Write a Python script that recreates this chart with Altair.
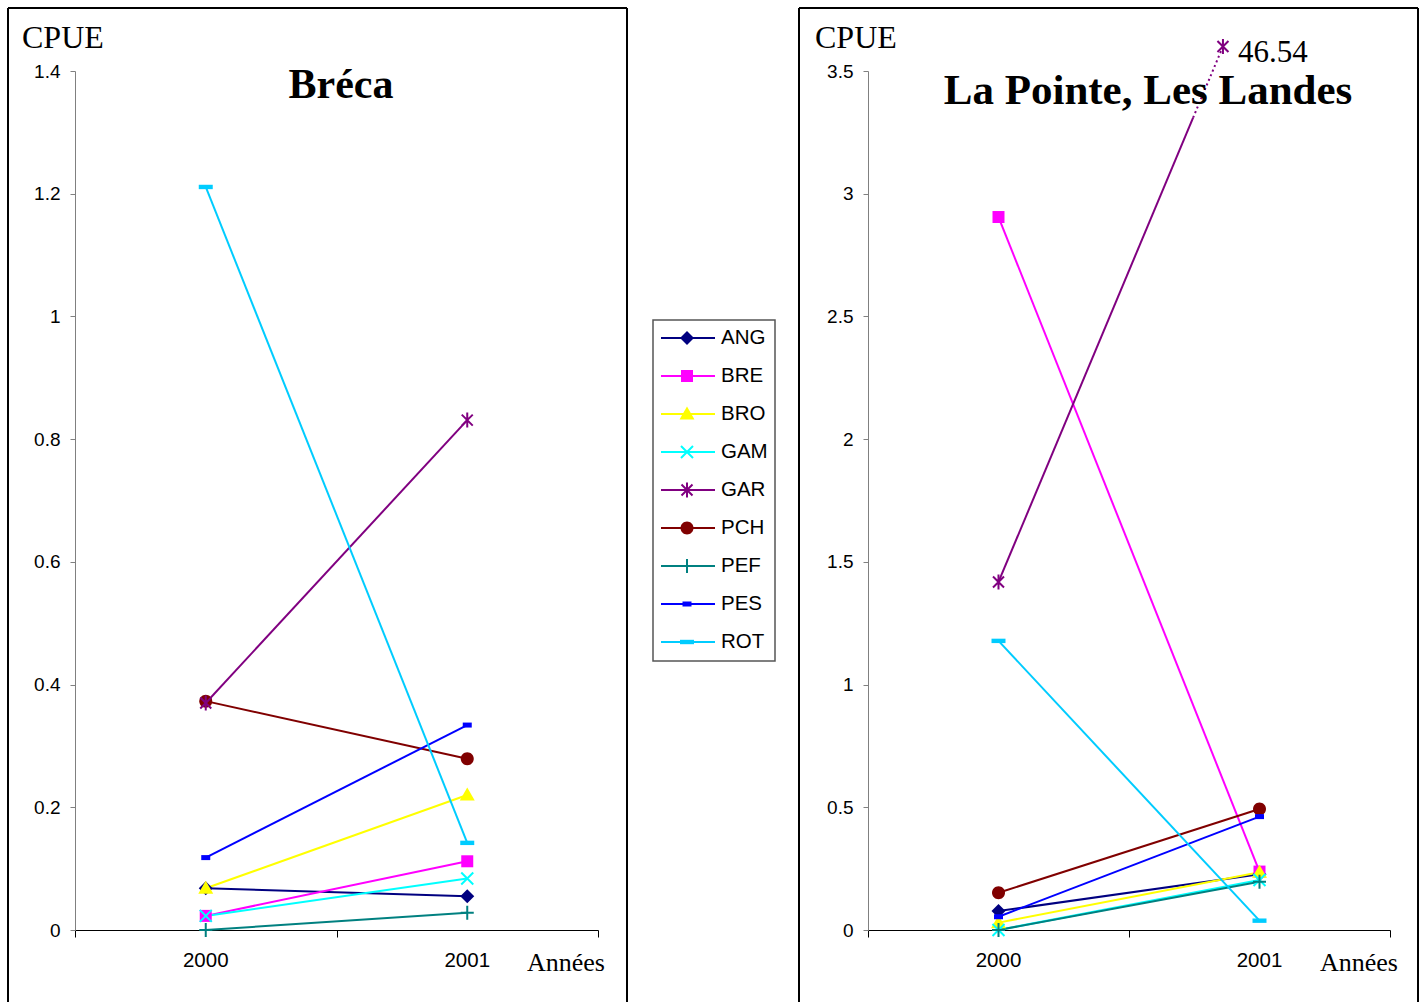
import altair as alt
import pandas as pd

# ---------------------------------------------------------------- data
years = [2000, 2001]
species = ["ANG", "BRE", "BRO", "GAM", "GAR", "PCH", "PEF", "PES", "ROT"]

# CPUE per species, Bréca
breca_2000 = [0.068, 0.023, 0.068, 0.023, 0.370, 0.373, 0.0, 0.118, 1.211]
breca_2001 = [0.055, 0.112, 0.220, 0.084, 0.831, 0.279, 0.028, 0.334, 0.142]

# CPUE per species, La Pointe / Les Landes
landes_2000 = [0.077, 2.905, 0.030, 0.0, 1.418, 0.152, 0.0, 0.054, 1.178]
landes_2001 = [0.227, 0.238, 0.235, 0.204, 46.54, 0.493, 0.197, 0.462, 0.038]

breca_ticks = [0, 0.2, 0.4, 0.6, 0.8, 1, 1.2, 1.4]
landes_ticks = [0, 0.5, 1, 1.5, 2, 2.5, 3, 3.5]

# ---------------------------------------------------------------- styles
colors = ["#000080", "#FF00FF", "#FFFF00", "#00FFFF", "#800080",
          "#800000", "#008080", "#0000FF", "#00CCFF"]

# marker outlines in symbol units (size=400 -> 1 unit = 10 px)
shapes = [
    "M0,-0.7L0.7,0L0,0.7L-0.7,0Z",                          # diamond
    "M-0.6,-0.6L0.6,-0.6L0.6,0.6L-0.6,0.6Z",                # square
    "M0,-0.75L0.75,0.55L-0.75,0.55Z",                       # triangle
    "M-0.6,-0.6L0.6,0.6M-0.6,0.6L0.6,-0.6",                 # x
    "M-0.55,-0.55L0.55,0.55M-0.55,0.55L0.55,-0.55M0,-0.75L0,0.75",  # asterisk
    "M-0.65,0A0.65,0.65 0 1,0 0.65,0A0.65,0.65 0 1,0 -0.65,0Z",  # circle
    "M-0.65,0L0.65,0M0,-0.7L0,0.7",                         # plus
    "M-0.45,-0.25L0.45,-0.25L0.45,0.25L-0.45,0.25Z",        # short dash
    "M-0.7,-0.22L0.7,-0.22L0.7,0.22L-0.7,0.22Z",            # long dash
]
outlined = ["GAM", "GAR", "PEF"]

SERIF = "Liberation Serif"
SANS = "Liberation Sans"

color_scale = alt.Scale(domain=species, range=colors)
shape_scale = alt.Scale(domain=species, range=shapes)
x_scale = alt.Scale(domain=[1999.5, 2001.5], nice=False, zero=False)
x_axis = alt.Axis(values=[1999.5, 2000.5, 2001.5], labels=False,
                  tickSize=7, tickColor="black", domainColor="black",
                  grid=False)

PANEL_H = 859


def long_table(v2000, v2001):
    rows = []
    for i, sp in enumerate(species):
        rows.append({"species": sp, "year": years[0], "cpue": v2000[i]})
        rows.append({"species": sp, "year": years[1], "cpue": v2001[i]})
    return pd.DataFrame(rows)


def one_row():
    return pd.DataFrame({"k": [0]})


def panel(df, y_max, ticks, title, title_x, title_y, title_size, frame_l,
          frame_r, width, extra=()):
    y_scale = alt.Scale(domain=[0, y_max], nice=False, zero=True)
    x_enc = alt.X("year:Q", scale=x_scale, title=None, axis=x_axis)
    y_enc = alt.Y("cpue:Q", scale=y_scale, title=None,
                  axis=alt.Axis(values=ticks, format="~g", tickSize=5,
                                labelPadding=10, labelFont=SANS,
                                labelFontSize=19, labelColor="black",
                                domainColor="#808080", tickColor="#808080",
                                grid=False))

    # an off-axis GAR value gets its own drawing (see below)
    line_df = df[~((df.species == "GAR") & (df.cpue.max() > y_max))]
    lines = alt.Chart(line_df).mark_line(strokeWidth=2).encode(
        x=x_enc, y=y_enc,
        color=alt.Color("species:N", scale=color_scale, legend=None),
        detail="species:N",
    )
    pts = df[df.cpue <= y_max]
    filled = alt.Chart(pts[~pts.species.isin(outlined)]).mark_point(
        filled=True, opacity=1, size=400, strokeWidth=0).encode(
        x=x_enc, y=y_enc,
        color=alt.Color("species:N", scale=color_scale, legend=None),
        shape=alt.Shape("species:N", scale=shape_scale, legend=None),
    )
    stroked = alt.Chart(pts[pts.species.isin(outlined)]).mark_point(
        filled=False, opacity=1, size=400, strokeWidth=2).encode(
        x=x_enc, y=y_enc,
        color=alt.Color("species:N", scale=color_scale, legend=None),
        shape=alt.Shape("species:N", scale=shape_scale, legend=None),
    )

    # outer frame (open at the bottom edge of the page)
    frame = alt.layer(
        alt.Chart(one_row()).mark_rule(color="black", strokeWidth=2).encode(
            x=alt.value(frame_l), y=alt.value(-63), y2=alt.value(931)),
        alt.Chart(one_row()).mark_rule(color="black", strokeWidth=2).encode(
            x=alt.value(frame_r), y=alt.value(-63), y2=alt.value(931)),
        alt.Chart(one_row()).mark_rule(color="black", strokeWidth=2).encode(
            x=alt.value(frame_l), x2=alt.value(frame_r), y=alt.value(-63)),
    )

    year_labels = alt.Chart(pd.DataFrame({"year": years})).mark_text(
        font=SANS, fontSize=20.5, baseline="middle", color="black").encode(
        x=x_enc, y=alt.value(890),
        text=alt.Text("year:Q", format="d"))

    texts = alt.layer(
        alt.Chart(one_row()).mark_text(
            text="CPUE", font=SERIF, fontSize=32, align="left",
            baseline="alphabetic", color="black").encode(
            x=alt.value(-53), y=alt.value(-23)),
        alt.Chart(one_row()).mark_text(
            text=title, font=SERIF, fontSize=title_size, fontWeight="bold",
            align="center", baseline="alphabetic", color="black").encode(
            x=alt.value(title_x), y=alt.value(title_y)),
        alt.Chart(one_row()).mark_text(
            text="Années", font=SERIF, fontSize=26, align="left",
            baseline="alphabetic", color="black").encode(
            x=alt.value(452), y=alt.value(900)),
    )

    return alt.layer(frame, lines, *extra, filled, stroked, year_labels,
                     texts).properties(width=width, height=PANEL_H)


# ---------------------------------------------------------------- Bréca
breca = long_table(breca_2000, breca_2001)
left = panel(breca, 1.4, breca_ticks, "Bréca", 266, 27, 42, -67, 552, 523)

# ---------------------------------------------------------------- La Pointe
landes = long_table(landes_2000, landes_2001)
gi = species.index("GAR")
gar_from = landes_2000[gi]
gar_value = landes_2001[gi]
# the 2001 GAR value is far off the axis: it is shown at a break point
# just above the plot, reached by a dotted continuation of its line
BREAK_YEAR, BREAK_CPUE = 2000.86, 3.6
SOLID_END = 3.31
solid_year = years[0] + (SOLID_END - gar_from) / (BREAK_CPUE - gar_from) * (
    BREAK_YEAR - years[0])

r_y = alt.Scale(domain=[0, 3.5], nice=False, zero=True)
gar_color = colors[gi]
gar_solid = alt.Chart(pd.DataFrame({
    "year": [years[0], solid_year], "cpue": [gar_from, SOLID_END]})
).mark_line(strokeWidth=2, color=gar_color).encode(
    x=alt.X("year:Q", scale=x_scale, axis=x_axis),
    y=alt.Y("cpue:Q", scale=r_y))
gar_dotted = alt.Chart(pd.DataFrame({
    "year": [solid_year, BREAK_YEAR], "cpue": [SOLID_END, BREAK_CPUE]})
).mark_line(strokeWidth=2, color=gar_color, strokeDash=[2, 3]).encode(
    x=alt.X("year:Q", scale=x_scale, axis=x_axis),
    y=alt.Y("cpue:Q", scale=r_y))
gar_break = pd.DataFrame({"year": [BREAK_YEAR], "cpue": [BREAK_CPUE],
                          "value": [gar_value], "species": ["GAR"]})
gar_mark = alt.Chart(gar_break).mark_point(
    filled=False, opacity=1, size=400, strokeWidth=2).encode(
    x=alt.X("year:Q", scale=x_scale, axis=x_axis),
    y=alt.Y("cpue:Q", scale=r_y),
    color=alt.Color("species:N", scale=color_scale, legend=None),
    shape=alt.Shape("species:N", scale=shape_scale, legend=None))
gar_text = alt.Chart(gar_break).mark_text(
    font=SERIF, fontSize=31, align="left", baseline="middle", dx=15, dy=7,
    color="black").encode(
    x=alt.X("year:Q", scale=x_scale, axis=x_axis),
    y=alt.Y("cpue:Q", scale=r_y),
    text=alt.Text("value:Q", format=".2f"))

right = panel(landes, 3.5, landes_ticks, "La Pointe, Les Landes", 280, 33, 43,
              -69, 550, 522,
              extra=(gar_solid, gar_dotted, gar_mark, gar_text))

# ---------------------------------------------------------------- legend
leg_df = pd.DataFrame({"species": species})
leg_y = alt.Y("species:N", scale=alt.Scale(domain=species, range=[248, 590]),
              axis=None)
leg_box = alt.Chart(one_row()).mark_rect(
    fill="white", stroke="#555555", strokeWidth=1.5).encode(
    x=alt.value(55), x2=alt.value(177), y=alt.value(249), y2=alt.value(590))
leg_lines = alt.Chart(leg_df).mark_rule(strokeWidth=2).encode(
    x=alt.value(63), x2=alt.value(117), y=leg_y,
    color=alt.Color("species:N", scale=color_scale, legend=None))
leg_filled = alt.Chart(leg_df[~leg_df.species.isin(outlined)]).mark_point(
    filled=True, opacity=1, size=400, strokeWidth=0).encode(
    x=alt.value(89), y=leg_y,
    color=alt.Color("species:N", scale=color_scale, legend=None),
    shape=alt.Shape("species:N", scale=shape_scale, legend=None))
leg_stroked = alt.Chart(leg_df[leg_df.species.isin(outlined)]).mark_point(
    filled=False, opacity=1, size=400, strokeWidth=2).encode(
    x=alt.value(89), y=leg_y,
    color=alt.Color("species:N", scale=color_scale, legend=None),
    shape=alt.Shape("species:N", scale=shape_scale, legend=None))
leg_text = alt.Chart(leg_df).mark_text(
    font=SANS, fontSize=20.5, align="left", baseline="middle",
    color="black").encode(x=alt.value(123), y=leg_y, text="species:N")

legend = alt.layer(leg_box, leg_lines, leg_filled, leg_stroked,
                   leg_text).properties(width=270, height=PANEL_H)

chart = alt.hconcat(left, legend, right, spacing=0, bounds="flush").properties(
    padding={"left": 7, "top": 7, "right": 7, "bottom": 0}
).configure(background="white").configure_view(stroke=None)

chart.save("out.html", embed_options={"renderer": "svg", "actions": False})
